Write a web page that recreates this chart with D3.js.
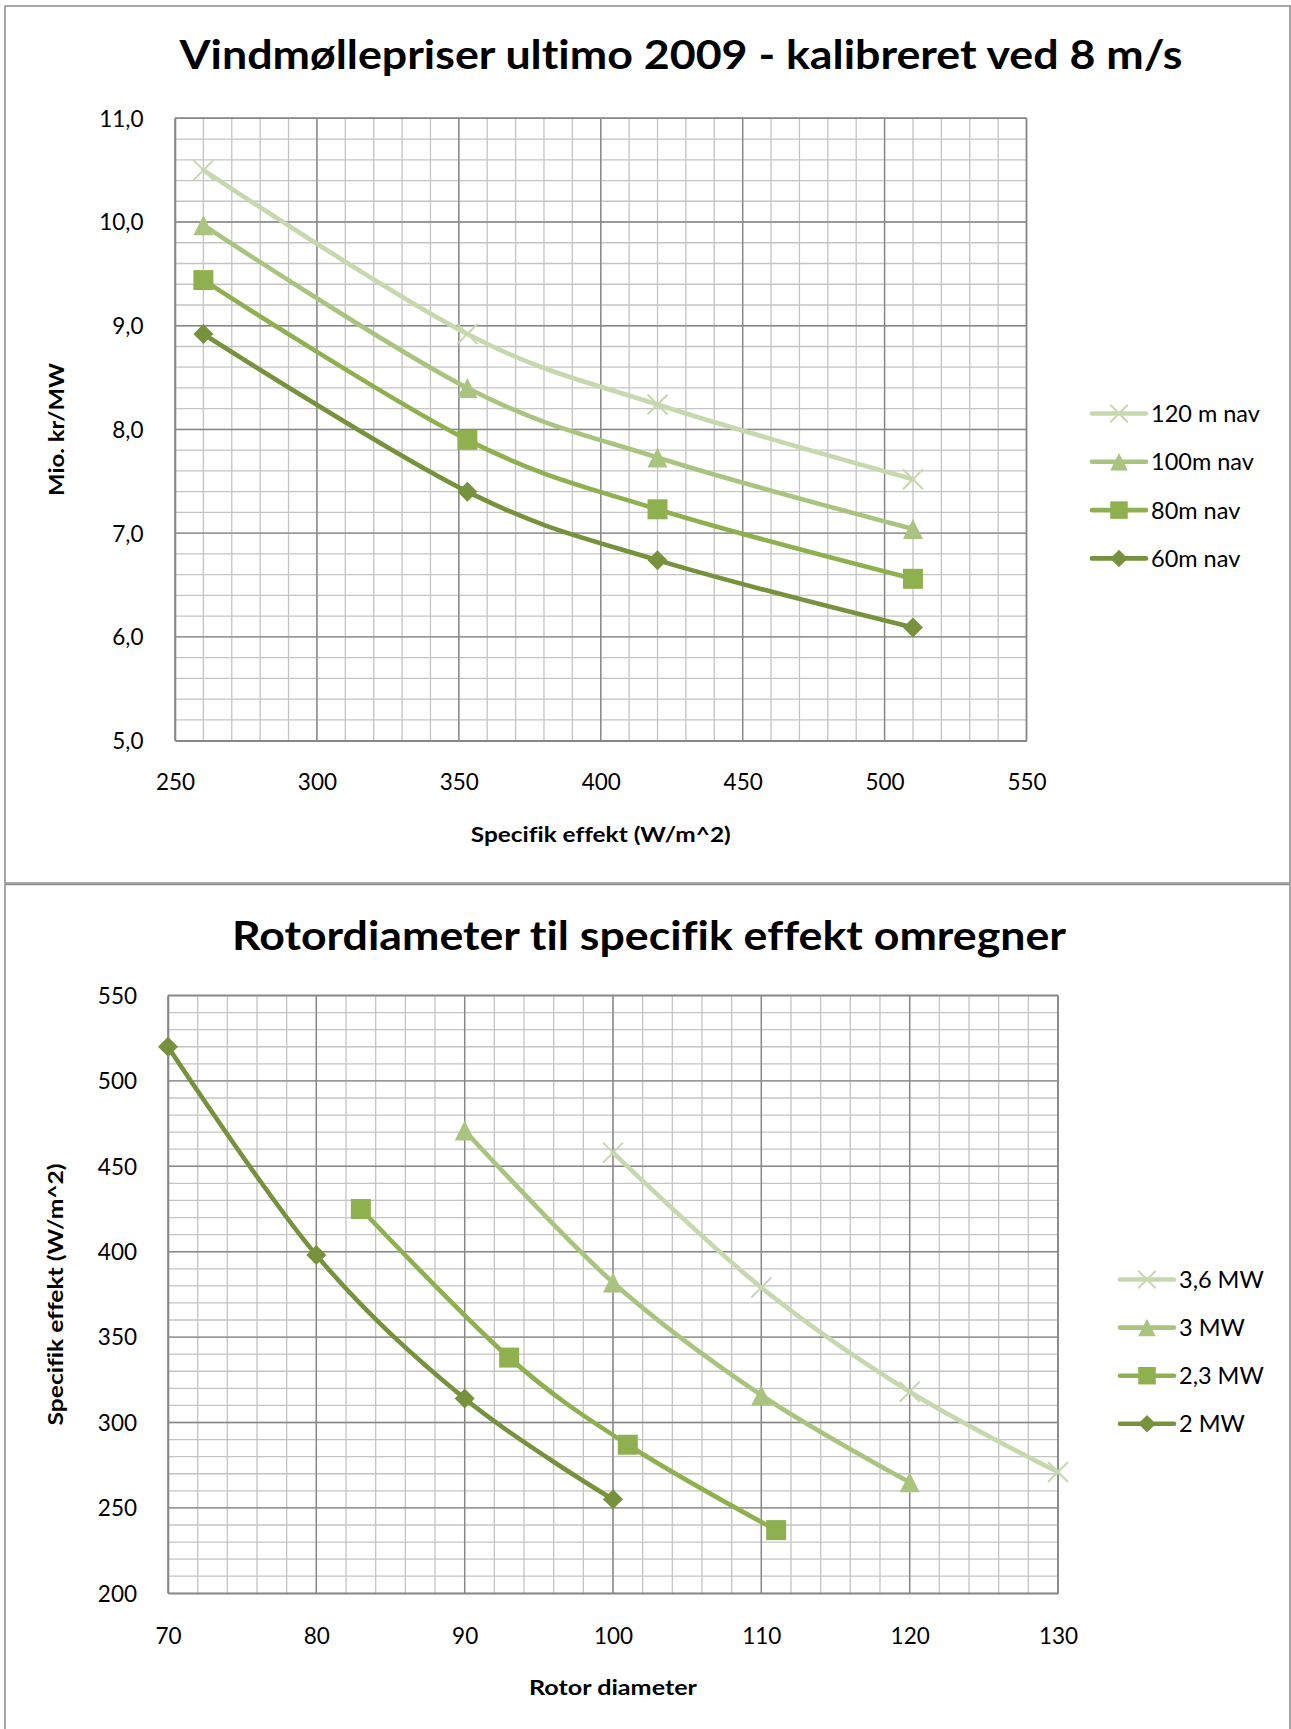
<!DOCTYPE html>
<html>
<head>
<meta charset="utf-8">
<script src="https://cdn.jsdelivr.net/npm/d3@7"></script>
<style>
  html, body { margin: 0; padding: 0; background: #fff; }
  svg { display: block; }
  text { font-family: Lato, "Open Sans", "DejaVu Sans", sans-serif; fill: #000; font-variant-ligatures: none; font-feature-settings: "liga" 0, "dlig" 0; }
</style>
</head>
<body>
<svg id="chart" width="1291" height="1729"></svg>
<script>
// ---------- Chart 1 data ----------
const specEffekt = [260, 353, 420, 510];
const nav120 = [10.50, 8.92, 8.24, 7.52];
const nav100 = [9.97, 8.40, 7.73, 7.04];
const nav80  = [9.44, 7.90, 7.23, 6.56];
const nav60  = [8.92, 7.40, 6.74, 6.09];
const chart1Names = ["120 m nav", "100m nav", "80m nav", "60m nav"];
const chart1XTicks = [250, 300, 350, 400, 450, 500, 550];
const chart1YTicks = [5, 6, 7, 8, 9, 10, 11];

// ---------- Chart 2 data ----------
const rotor2MW  = [70, 80, 90, 100];
const spec2MW   = [520, 398, 314, 255];
const rotor23MW = [83, 93, 101, 111];
const spec23MW  = [425, 338, 287, 237];
const rotor3MW  = [90, 100, 110, 120];
const spec3MW   = [471, 382, 316, 265];
const rotor36MW = [100, 110, 120, 130];
const spec36MW  = [458, 379, 318, 271];
const chart2Names = ["3,6 MW", "3 MW", "2,3 MW", "2 MW"];
const chart2XTicks = [70, 80, 90, 100, 110, 120, 130];
const chart2YTicks = [200, 250, 300, 350, 400, 450, 500, 550];

const colors = ["#c6d8ae", "#a9c47f", "#8fb04f", "#76923c"];
const markers = ["x", "triangle", "square", "diamond"];

const svg = d3.select("#chart");

// chart frames
svg.append("rect").attr("x", 5).attr("y", 6).attr("width", 1285).attr("height", 877)
  .attr("fill", "#fff").attr("stroke", "#8c8c8c").attr("stroke-width", 1.5);
svg.append("rect").attr("x", 5).attr("y", 884.5).attr("width", 1285).attr("height", 900)
  .attr("fill", "#fff").attr("stroke", "#8c8c8c").attr("stroke-width", 1.5);

function markerPath(type, s) {
  const h = s / 2;
  if (type === "triangle") return `M0,${-h}L${h},${h}L${-h},${h}Z`;
  if (type === "square") return `M${-h},${-h}H${h}V${h}H${-h}Z`;
  if (type === "diamond") { const d = h; return `M0,${-d}L${d},0L0,${d}L${-d},0Z`; }
  return `M${-h},${-h}L${h},${h}M${h},${-h}L${-h},${h}`;
}

function drawMarker(g, type, color, x, y, size) {
  const p = g.append("path").attr("transform", `translate(${x},${y})`)
    .attr("d", markerPath(type, size));
  if (type === "x") p.attr("fill", "none").attr("stroke", color).attr("stroke-width", 2);
  else p.attr("fill", color).attr("stroke", "none");
}

function drawChart(cfg) {
  const g = svg.append("g");
  const x = d3.scaleLinear().domain(cfg.xDomain).range([cfg.left, cfg.right]);
  const y = d3.scaleLinear().domain(cfg.yDomain).range([cfg.bottom, cfg.top]);

  // minor grid
  const xMinor = d3.range(cfg.xDomain[0], cfg.xDomain[1] + 1e-9, cfg.xMinorStep);
  const yMinor = d3.range(cfg.yDomain[0], cfg.yDomain[1] + 1e-9, cfg.yMinorStep);
  g.append("g").selectAll("line").data(xMinor).join("line")
    .attr("x1", d => x(d)).attr("x2", d => x(d)).attr("y1", cfg.top).attr("y2", cfg.bottom)
    .attr("stroke", "#c4c4c4").attr("stroke-width", 1.3);
  g.append("g").selectAll("line").data(yMinor).join("line")
    .attr("y1", d => y(d)).attr("y2", d => y(d)).attr("x1", cfg.left).attr("x2", cfg.right)
    .attr("stroke", "#c4c4c4").attr("stroke-width", 1.3);
  // major grid
  g.append("g").selectAll("line").data(cfg.xTicks).join("line")
    .attr("x1", d => x(d)).attr("x2", d => x(d)).attr("y1", cfg.top).attr("y2", cfg.bottom)
    .attr("stroke", "#878787").attr("stroke-width", 1.4);
  g.append("g").selectAll("line").data(cfg.yTicks).join("line")
    .attr("y1", d => y(d)).attr("y2", d => y(d)).attr("x1", cfg.left).attr("x2", cfg.right)
    .attr("stroke", "#878787").attr("stroke-width", 1.4);

  // axes (tick labels via d3 axes)
  const xAxis = d3.axisBottom(x).tickValues(cfg.xTicks).tickSize(0).tickPadding(0)
    .tickFormat(cfg.xFormat);
  const gx = g.append("g").attr("transform", `translate(0,${cfg.bottom})`).call(xAxis);
  gx.select(".domain").attr("stroke", "#878787").attr("stroke-width", 1.6);
  gx.selectAll("text").attr("font-size", 22.5).attr("dy", null).attr("y", cfg.xLabelY - cfg.bottom)
    .attr("fill", "#000").style("font-family", "Lato, 'Open Sans', sans-serif");

  const yAxis = d3.axisLeft(y).tickValues(cfg.yTicks).tickSize(0).tickPadding(0)
    .tickFormat(cfg.yFormat);
  const gy = g.append("g").attr("transform", `translate(${cfg.left},0)`).call(yAxis);
  gy.select(".domain").attr("stroke", "#878787").attr("stroke-width", 1.6);
  gy.selectAll("text").attr("font-size", 22.5).attr("dy", "0.35em").attr("x", cfg.yLabelX - cfg.left)
    .attr("fill", "#000").style("font-family", "Lato, 'Open Sans', sans-serif");

  // right/top plot border
  g.append("line").attr("x1", cfg.right).attr("x2", cfg.right).attr("y1", cfg.top).attr("y2", cfg.bottom)
    .attr("stroke", "#878787").attr("stroke-width", 1.4);
  g.append("line").attr("x1", cfg.left).attr("x2", cfg.right).attr("y1", cfg.top).attr("y2", cfg.top)
    .attr("stroke", "#878787").attr("stroke-width", 1.4);

  // series
  const line = d3.line().x(d => x(d[0])).y(d => y(d[1])).curve(d3.curveCardinal.tension(0));
  cfg.series.forEach((s, i) => {
    const pts = s.xs.map((xv, j) => [xv, s.ys[j]]);
    g.append("path").datum(pts).attr("d", line).attr("fill", "none")
      .attr("stroke", colors[i]).attr("stroke-width", 4.6).attr("stroke-linejoin", "round")
      .attr("stroke-linecap", "round");
  });
  cfg.series.forEach((s, i) => {
    s.xs.forEach((xv, j) => drawMarker(g, markers[i], colors[i], x(xv), y(s.ys[j]), 20));
  });

  // titles
  const t = g.append("text").attr("x", cfg.titleX).attr("y", cfg.titleY)
    .attr("text-anchor", "middle").attr("font-size", 40).attr("font-weight", "bold").text(cfg.title);
  t.attr("textLength", cfg.titleWidth).attr("lengthAdjust", "spacingAndGlyphs");

  const xt = g.append("text").attr("x", (cfg.left + cfg.right) / 2).attr("y", cfg.xTitleY)
    .attr("text-anchor", "middle").attr("font-size", 21).attr("font-weight", "bold").text(cfg.xTitle);
  xt.attr("textLength", cfg.xTitleWidth).attr("lengthAdjust", "spacingAndGlyphs");
  const yt = g.append("text").attr("transform", `translate(${cfg.yTitleX},${(cfg.top + cfg.bottom) / 2}) rotate(-90)`)
    .attr("text-anchor", "middle").attr("font-size", 21).attr("font-weight", "bold").text(cfg.yTitle);
  yt.attr("textLength", cfg.yTitleWidth).attr("lengthAdjust", "spacingAndGlyphs");

  // legend
  cfg.series.forEach((s, i) => {
    const ly = cfg.legendY0 + i * cfg.legendStep;
    g.append("line").attr("x1", cfg.legendX).attr("x2", cfg.legendX + 54).attr("y1", ly).attr("y2", ly)
      .attr("stroke", colors[i]).attr("stroke-width", 4.6).attr("stroke-linecap", "round");
    drawMarker(g, markers[i], colors[i], cfg.legendX + 27, ly, 17.5);
    g.append("text").attr("x", cfg.legendX + 59).attr("y", ly).attr("dy", "0.36em")
      .attr("font-size", 23.5).text(s.name);
  });
}

const comma1 = v => d3.format(".1f")(v).replace(".", ",");

drawChart({
  left: 175, right: 1026.5, top: 118.3, bottom: 740.6,
  xDomain: [250, 550], yDomain: [5, 11], xMinorStep: 10, yMinorStep: 0.2,
  xTicks: chart1XTicks, yTicks: chart1YTicks,
  xFormat: d => String(d), yFormat: comma1,
  xLabelY: 790.5, yLabelX: 143.5,
  title: "Vindmøllepriser ultimo 2009 - kalibreret ved 8 m/s", titleX: 681, titleY: 69.3, titleWidth: 1003,
  xTitle: "Specifik effekt (W/m^2)", xTitleY: 842, xTitleWidth: 260,
  yTitle: "Mio. kr/MW", yTitleX: 64, yTitleWidth: 133,
  legendX: 1092, legendY0: 413.5, legendStep: 48.3,
  series: [
    { name: chart1Names[0], xs: specEffekt, ys: nav120 },
    { name: chart1Names[1], xs: specEffekt, ys: nav100 },
    { name: chart1Names[2], xs: specEffekt, ys: nav80 },
    { name: chart1Names[3], xs: specEffekt, ys: nav60 }
  ]
});

drawChart({
  left: 168, right: 1058, top: 995.5, bottom: 1593.3,
  xDomain: [70, 130], yDomain: [200, 550], xMinorStep: 2, yMinorStep: 10,
  xTicks: chart2XTicks, yTicks: chart2YTicks,
  xFormat: d => String(d), yFormat: d => String(d),
  xLabelY: 1644, yLabelX: 137,
  title: "Rotordiameter til specifik effekt omregner", titleX: 649, titleY: 950, titleWidth: 834,
  xTitle: "Rotor diameter", xTitleY: 1695, xTitleWidth: 168,
  yTitle: "Specifik effekt (W/m^2)", yTitleX: 63, yTitleWidth: 262,
  legendX: 1120, legendY0: 1279.5, legendStep: 48.1,
  series: [
    { name: chart2Names[0], xs: rotor36MW, ys: spec36MW },
    { name: chart2Names[1], xs: rotor3MW, ys: spec3MW },
    { name: chart2Names[2], xs: rotor23MW, ys: spec23MW },
    { name: chart2Names[3], xs: rotor2MW, ys: spec2MW }
  ]
});
</script>
</body>
</html>
